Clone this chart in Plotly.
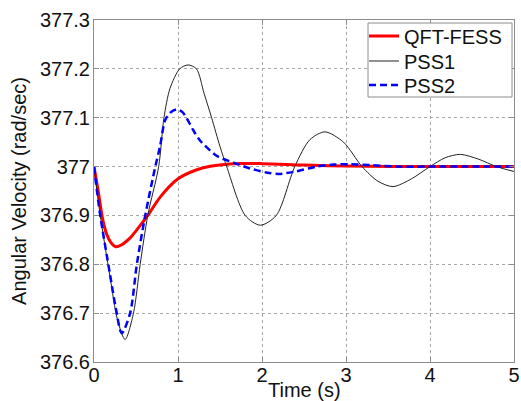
import plotly.graph_objects as go

# QFT-FESS (red)
t_qft = [0, 0.05, 0.1, 0.15, 0.2, 0.26, 0.33, 0.43, 0.53, 0.64, 0.79, 1.0, 1.2, 1.4, 1.65, 2.0, 2.5, 3.0, 4.0, 5.0]
y_qft = [377.0, 376.95, 376.895, 376.862, 376.845, 376.836, 376.84, 376.854, 376.875, 376.9, 376.938, 376.975,
         376.992, 377.001, 377.006, 377.006, 377.003, 377.001, 377.0, 377.0]

# PSS1 (black)
t_pss1 = [0, 0.07, 0.19, 0.28, 0.37, 0.47, 0.55, 0.64, 0.77, 0.833, 0.905, 1.02, 1.12, 1.22, 1.31, 1.40, 1.50, 1.58,
          1.8, 1.98, 2.17, 2.39, 2.57, 2.75, 2.97, 3.19, 3.38, 3.56, 3.78, 4.0, 4.18, 4.36, 4.58, 4.79, 5.0]
y_pss1 = [377.0, 376.905, 376.775, 376.686, 376.646, 376.7, 376.8, 376.9, 377.0, 377.1, 377.16, 377.2, 377.208,
          377.2, 377.15, 377.1, 377.041, 377.0, 376.9, 376.88, 376.9, 377.0, 377.055, 377.071, 377.05, 377.0,
          376.97, 376.959, 376.975, 377.0, 377.018, 377.025, 377.015, 377.0, 376.99]

# PSS2 (blue dashed)
t_pss2 = [0, 0.07, 0.19, 0.26, 0.33, 0.43, 0.51, 0.61, 0.73, 0.786, 0.845, 0.905, 0.984, 1.05, 1.1, 1.18, 1.26,
          1.46, 1.66, 1.86, 2.05, 2.2, 2.4, 2.65, 2.85, 3.05, 3.3, 3.6, 4.0, 5.0]
y_pss2 = [377.0, 376.905, 376.78, 376.71, 376.659, 376.7, 376.8, 376.9, 377.0, 377.041, 377.094, 377.11, 377.117,
          377.112, 377.1, 377.075, 377.054, 377.022, 377.008, 376.996, 376.988, 376.985, 376.99, 377.0, 377.004,
          377.005, 377.003, 377.0, 377.0, 377.0]

x_ticks = [0, 1, 2, 3, 4, 5]
y_ticks = [376.6, 376.7, 376.8, 376.9, 377.0, 377.1, 377.2, 377.3]
y_tick_text = ["376.6", "376.7", "376.8", "376.9", "377", "377.1", "377.2", "377.3"]

FONT = "Arial, Liberation Sans, Helvetica, sans-serif"
FS = 20

# plot-area geometry helpers (pixels -> paper)
L, R, T, B = 94, 514, 20, 362
def px(xp):
    return (xp - L) / (R - L)
def py(yp):
    return (B - yp) / (B - T)

fig = go.Figure()
fig.add_trace(go.Scatter(x=t_qft, y=y_qft, mode="lines", name="QFT-FESS", legend="legend",
                         line=dict(color="#ff0000", width=3, shape="spline", smoothing=0.8)))
fig.add_trace(go.Scatter(x=t_pss1, y=y_pss1, mode="lines", name="PSS1", legend="legend2",
                         line=dict(color="#222222", width=1, shape="spline", smoothing=0.8)))
fig.add_trace(go.Scatter(x=t_pss2, y=y_pss2, mode="lines", name="PSS2", legend="legend3",
                         line=dict(color="#0000ff", width=2.5, dash="7px,4px", shape="spline", smoothing=0.8)))

axis_common = dict(
    showgrid=True, gridcolor="#a8a8a8", griddash="dot", gridwidth=1,
    showline=True, linecolor="#8c8c8c", linewidth=1, mirror="ticks",
    ticks="inside", ticklen=5, tickcolor="#8c8c8c",
    zeroline=False,
    tickfont=dict(family=FONT, size=FS, color="#111111"),
)

# legend frame (decoration)
fig.add_shape(type="rect", xref="paper", yref="paper",
              x0=px(368), x1=px(512), y0=py(97), y1=py(23),
              line=dict(color="#8c8c8c", width=1), fillcolor="white", layer="above")

def leg(row_y):
    return dict(x=px(364), y=py(row_y), xanchor="left", yanchor="middle",
                bgcolor="rgba(0,0,0,0)", borderwidth=0,
                font=dict(family=FONT, size=FS, color="#111111"),
                itemwidth=30)

fig.add_annotation(text="Time (s)", xref="paper", yref="paper", x=0.5, y=py(390),
                   xanchor="center", yanchor="middle", showarrow=False,
                   font=dict(family=FONT, size=FS, color="#111111"))

fig.update_layout(
    width=521, height=401,
    margin=dict(l=L, r=521 - R, t=T, b=401 - B),
    paper_bgcolor="white", plot_bgcolor="white",
    font=dict(family=FONT, size=FS, color="#111111"),
    showlegend=True,
    legend=leg(36), legend2=leg(61), legend3=leg(85),
    xaxis=dict(range=[0, 5], tickvals=x_ticks, ticktext=[str(v) for v in x_ticks],
               ticklabelstandoff=-5,
               automargin=False, **axis_common),
    yaxis=dict(range=[376.6, 377.3], tickvals=y_ticks, ticktext=y_tick_text,
               ticklabelstandoff=-1,
               title=dict(text="Angular Velocity (rad/sec)", standoff=7, font=dict(family=FONT, size=FS)),
               automargin=False, **axis_common),
)

fig.write_html("out.html")
